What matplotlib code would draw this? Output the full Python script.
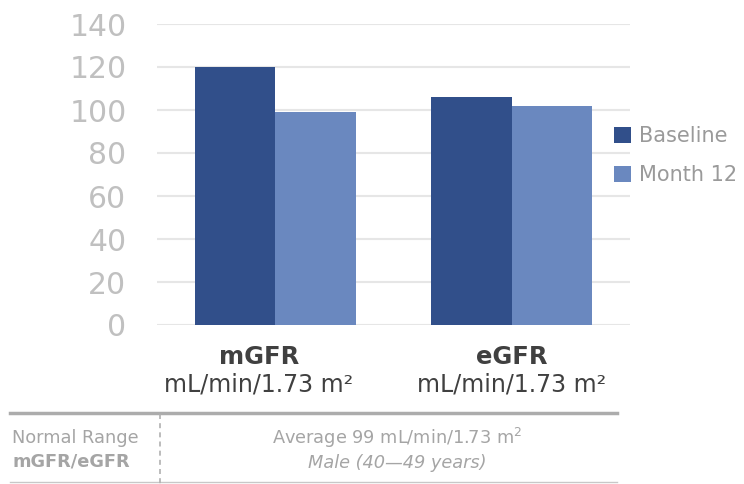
import matplotlib
matplotlib.use("Agg")
import matplotlib.pyplot as plt
import numpy as np

plt.rcParams['font.family'] = ['DejaVu Sans']

categories = ["mGFR", "eGFR"]
units = ["mL/min/1.73 m²", "mL/min/1.73 m²"]
series_names = ["Baseline", "Month 12"]
baseline = [120, 106]
month12 = [99, 102]
yticks = [0, 20, 40, 60, 80, 100, 120, 140]

colors = ["#314f8a", "#6a88bf"]
label_offsets = [-0.07, 0.0]

fig = plt.figure(figsize=(7.44, 4.84), dpi=100)
ax = fig.add_axes([157/744, 1-325/484, 473/744, 301/484])

x = np.arange(len(categories))
w = 0.34
ax.bar(x - w/2, baseline, w, color=colors[0], label=series_names[0], zorder=3)
ax.bar(x + w/2, month12, w, color=colors[1], label=series_names[1], zorder=3)

ax.set_xlim(-0.5, 1.5)
ax.set_ylim(0, 140)
ax.set_yticks(yticks)
ax.set_yticklabels([str(t) for t in yticks], fontsize=21.5, color="#c0c0c0")
ax.tick_params(axis='y', length=0, pad=22)
ax.tick_params(axis='x', length=0)
ax.set_xticks([])
for t in yticks:
    ax.axhline(t, color="#e6e6e6", lw=1.5, zorder=1)
for s in ax.spines.values():
    s.set_visible(False)

for xi, off, cat, un in zip(x, label_offsets, categories, units):
    ax.text(xi + off, -(357-325)/301, cat, transform=ax.get_xaxis_transform(), ha='center', va='center',
            fontsize=17.5, fontweight='bold', color="#404040")
    ax.text(xi + off, -(384-325)/301, un, transform=ax.get_xaxis_transform(), ha='center', va='center',
            fontsize=17, color="#404040")

leg = ax.legend(loc='center left', bbox_to_anchor=(0.966, 0.563), frameon=False,
                fontsize=15, handlelength=0.8, handleheight=0.8, handletextpad=0.4,
                labelspacing=0.9, borderaxespad=0, borderpad=0)
for t in leg.get_texts():
    t.set_color("#9a9a9a")

# table below
def fx(px): return px/744
def fy(py): return 1 - py/484

fig.add_artist(plt.Line2D([fx(10), fx(617)], [fy(413), fy(413)], color="#acacac", lw=2.5))
fig.add_artist(plt.Line2D([fx(10), fx(617)], [fy(482), fy(482)], color="#c8c8c8", lw=1))
fig.add_artist(plt.Line2D([fx(160), fx(160)], [fy(414), fy(484)], color="#b0b0b0", lw=1.2,
                          linestyle=(0, (3, 2.5))))
gray = "#a5a5a5"
fig.text(fx(12), fy(438), "Normal Range", ha='left', va='center', fontsize=12.8, color=gray)
fig.text(fx(12), fy(462), "mGFR/eGFR", ha='left', va='center', fontsize=12.8, color=gray, fontweight='bold')
fig.text(fx(397), fy(438), "Average 99 mL/min/1.73 m$^2$", ha='center', va='center', fontsize=12.8, color=gray)
fig.text(fx(397), fy(463), "Male (40\u201449 years)", ha='center', va='center', fontsize=12.8, color=gray, style='italic')

fig.savefig("out.png", dpi=100)
